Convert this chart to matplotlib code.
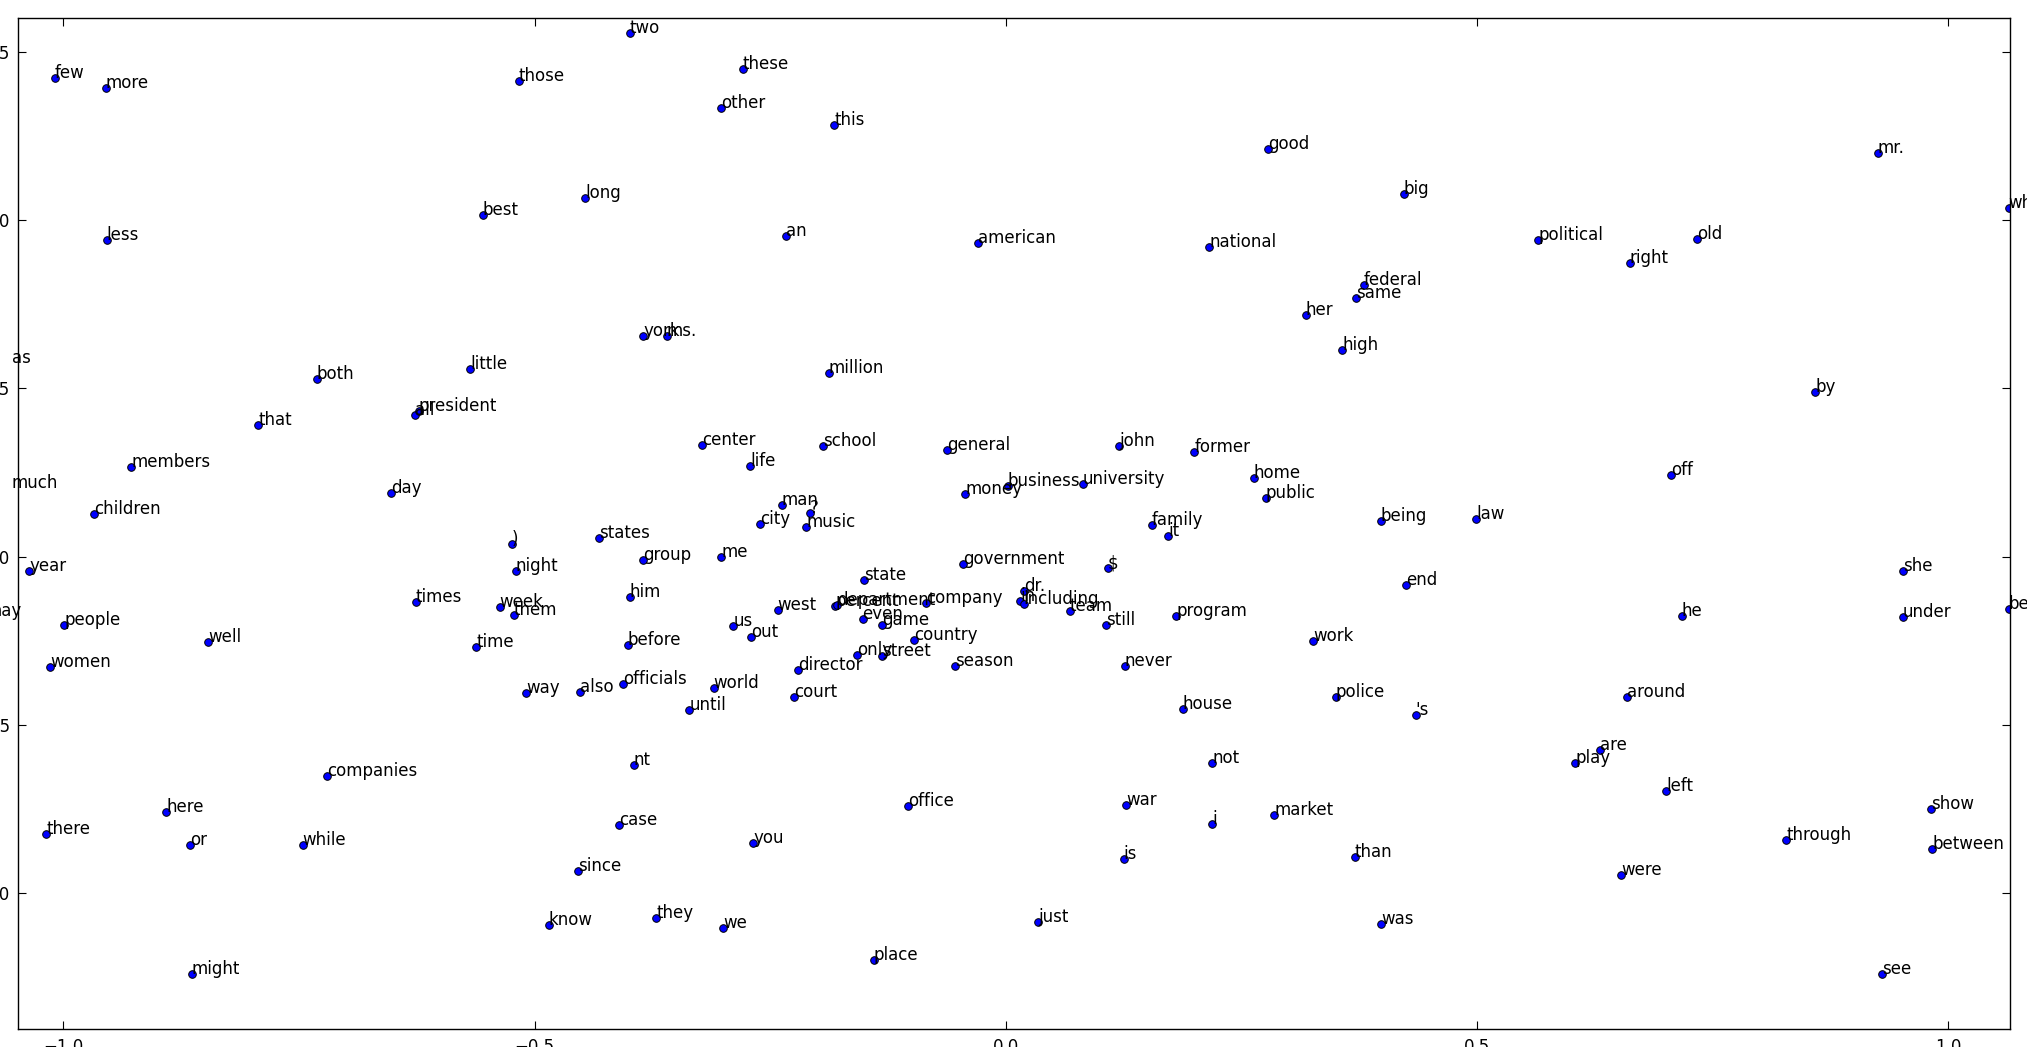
import matplotlib
matplotlib.use("Agg")
import matplotlib.pyplot as plt

words = ["two", "these", "few", "more", "those", "other", "this", "good", "mr.", "big",
         "long", "which", "best", "less", "an", "american", "national", "political", "old", "right",
         "federal", "same", "her", "york", "ms.", "high", "as", "little", "million", "both",
         "by", "all", "president", "that", "center", "school", "general", "john", "former", "members",
         "life", "much", "home", "day", "money", "business", "university", "public", "off", "children",
         "man", "?", "city", "music", "family", "it", "states", "being", "law", ")",
         "night", "group", "me", "year", "government", "$", "she", "state", "end", "dr.",
         "in", "including", "may", "him", "times", "week", "them", "west", "percent", "department",
         "company", "team", "program", "he", "under", "been", "people", "even", "game", "still",
         "us", "out", "country", "work", "well", "before", "time", "only", "street", "season",
         "never", "women", "officials", "world", "director", "way", "also", "court", "until", "house",
         "police", "'s", "around", "nt", "not", "are", "play", "companies", "left", "office",
         "war", "market", "show", "here", "case", "i", "you", "there", "through", "or",
         "while", "between", "is", "than", "since", "were", "they", "know", "just", "was",
         "we", "place", "might", "see"]

xs = [-0.399, -0.279, -1.009, -0.955, -0.517, -0.302, -0.182, 0.278, 0.925, 0.422,
      -0.446, 1.064, -0.555, -0.954, -0.233, -0.030, 0.216, 0.565, 0.733, 0.662,
      0.380, 0.372, 0.318, -0.385, -0.360, 0.357, -1.054, -0.568, -0.188, -0.731,
      0.859, -0.627, -0.623, -0.793, -0.322, -0.194, -0.062, 0.120, 0.200, -0.928,
      -0.271, -1.055, 0.263, -0.652, -0.043, 0.002, 0.082, 0.276, 0.706, -0.967,
      -0.238, -0.208, -0.261, -0.212, 0.155, 0.172, -0.432, 0.398, 0.499, -0.524,
      -0.520, -0.385, -0.302, -1.036, -0.045, 0.108, 0.952, -0.150, 0.425, 0.019,
      0.015, 0.019, -1.083, -0.399, -0.626, -0.537, -0.522, -0.242, -0.181, -0.179,
      -0.085, 0.068, 0.181, 0.717, 0.952, 1.064, -0.999, -0.152, -0.131, 0.106,
      -0.289, -0.270, -0.097, 0.326, -0.846, -0.401, -0.562, -0.158, -0.131, -0.054,
      0.126, -1.014, -0.406, -0.310, -0.220, -0.509, -0.452, -0.225, -0.336, 0.188,
      0.350, 0.435, 0.659, -0.395, 0.219, 0.630, 0.604, -0.720, 0.701, -0.104,
      0.128, 0.285, 0.982, -0.891, -0.410, 0.219, -0.268, -1.018, 0.828, -0.866,
      -0.746, 0.983, 0.125, 0.370, -0.454, 0.653, -0.371, -0.485, 0.034, 0.398,
      -0.300, -0.140, -0.864, 0.930]

ys = [1.555, 1.448, 1.421, 1.391, 1.412, 1.333, 1.281, 1.211, 1.199, 1.077,
      1.064, 1.035, 1.014, 0.941, 0.952, 0.931, 0.920, 0.941, 0.944, 0.872,
      0.807, 0.769, 0.717, 0.656, 0.656, 0.614, 0.575, 0.557, 0.545, 0.527,
      0.490, 0.420, 0.432, 0.390, 0.332, 0.328, 0.316, 0.328, 0.310, 0.266,
      0.269, 0.205, 0.234, 0.188, 0.186, 0.211, 0.216, 0.174, 0.243, 0.127,
      0.154, 0.130, 0.097, 0.087, 0.094, 0.061, 0.055, 0.105, 0.111, 0.038,
      -0.043, -0.010, -0.001, -0.043, -0.023, -0.035, -0.043, -0.069, -0.084, -0.103,
      -0.133, -0.141, -0.176, -0.120, -0.135, -0.149, -0.174, -0.158, -0.146, -0.144,
      -0.138, -0.161, -0.176, -0.176, -0.179, -0.155, -0.203, -0.185, -0.204, -0.204,
      -0.206, -0.239, -0.247, -0.250, -0.254, -0.262, -0.268, -0.292, -0.295, -0.325,
      -0.325, -0.329, -0.378, -0.390, -0.337, -0.404, -0.402, -0.418, -0.455, -0.453,
      -0.416, -0.470, -0.416, -0.620, -0.613, -0.574, -0.613, -0.651, -0.697, -0.740,
      -0.737, -0.768, -0.749, -0.759, -0.797, -0.795, -0.851, -0.824, -0.841, -0.856,
      -0.856, -0.868, -0.899, -0.892, -0.934, -0.945, -1.074, -1.095, -1.086, -1.092,
      -1.103, -1.198, -1.239, -1.239]

x_ticks = [-1.0, -0.5, 0.0, 0.5, 1.0]
y_ticks = [-1.0, -0.5, 0.0, 0.5, 1.0, 1.5]

plt.rcParams['font.size'] = 12
plt.rcParams['font.family'] = ['DejaVu Sans']

fig = plt.figure(figsize=(20.27, 10.47), dpi=100)
ax = fig.add_axes([0.00903, 0.01691, 0.98244, 0.96562])

# blue dots with thin black edges, word label starting at each dot
ax.scatter(xs, ys, s=30, c='b', edgecolors='k', linewidths=0.7, zorder=2)
for w, x, y in zip(words, xs, ys):
    ax.text(x, y, w, fontsize=12, ha='left', va='baseline', zorder=3)

ax.set_xlim(-1.0478, 1.0652)
ax.set_ylim(-1.4036, 1.599)
ax.set_xticks(x_ticks)
ax.set_yticks(y_ticks)
ax.tick_params(direction='in', length=5.5, width=0.8, pad=6, labelsize=12,
               top=True, right=True)
for sp in ax.spines.values():
    sp.set_linewidth(1.0)

fig.savefig("out.png", dpi=100, facecolor='white')
